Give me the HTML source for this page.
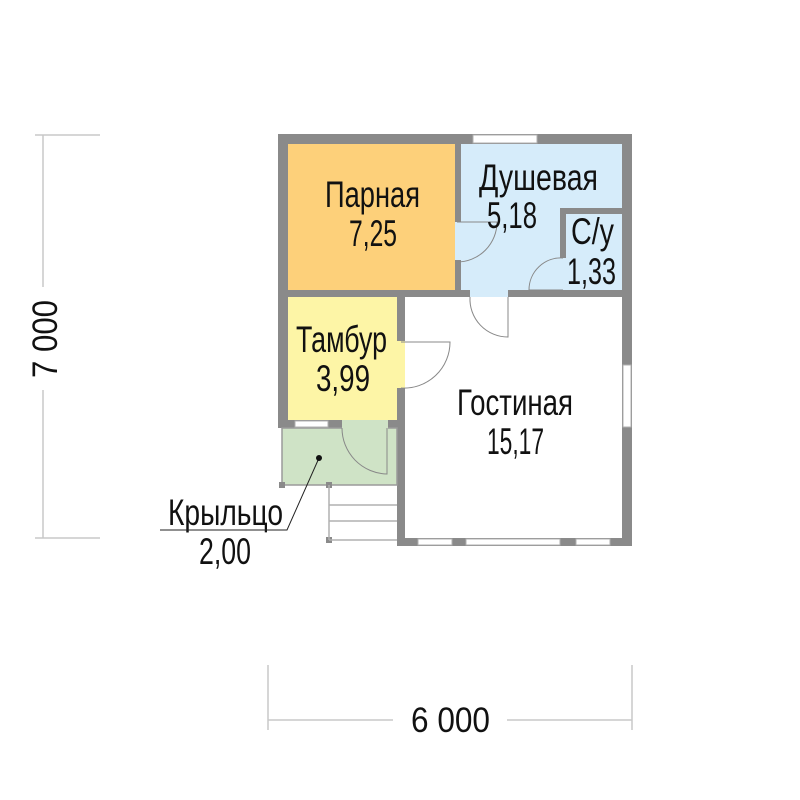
<!DOCTYPE html>
<html><head><meta charset="utf-8"><style>
html,body{margin:0;padding:0;background:#fff;}
svg{display:block;}
text{font-family:"Liberation Sans Narrow","Liberation Sans",sans-serif;fill:#111;}
</style></head><body>
<svg width="800" height="800" viewBox="0 0 800 800" xmlns="http://www.w3.org/2000/svg">
<g stroke="#c8c8c8" stroke-width="1.5" fill="none">
<line x1="43" y1="135" x2="43" y2="287"/>
<line x1="43" y1="390" x2="43" y2="538"/>
<line x1="35" y1="135" x2="100" y2="135"/>
<line x1="35" y1="538" x2="100" y2="538"/>
<line x1="268" y1="665" x2="268" y2="730"/>
<line x1="632" y1="665" x2="632" y2="730"/>
<line x1="268" y1="720" x2="393" y2="720"/>
<line x1="507" y1="720" x2="632" y2="720"/>
</g>
<text x="411" y="732" font-size="35" textLength="79" lengthAdjust="spacingAndGlyphs">6 000</text>
<text transform="translate(57,378) rotate(-90)" font-size="35" textLength="78" lengthAdjust="spacingAndGlyphs">7 000</text>

<rect x="278" y="134" width="354" height="163" fill="#8a8a8a"/>
<rect x="278" y="290" width="127" height="138" fill="#8a8a8a"/>
<rect x="397" y="290" width="235" height="256" fill="#8a8a8a"/>
<rect x="288" y="144" width="167" height="146" fill="#fdd07a"/>
<rect x="461" y="144" width="161" height="146" fill="#d6ecfa"/>
<rect x="560" y="208" width="62" height="82" fill="#8a8a8a"/>
<rect x="566" y="214" width="56" height="76" fill="#d6ecfa"/>
<rect x="288" y="297" width="109" height="123" fill="#fdf5a6"/>
<rect x="405" y="297" width="217" height="241" fill="#fff"/>
<rect x="282" y="428" width="115" height="57" fill="#cfe3c6" stroke="#9a9a9a" stroke-width="1.5"/>
<rect x="342" y="420" width="46" height="9" fill="#cfe3c6"/>
<rect x="279" y="482" width="6" height="6" fill="#8a8a8a"/>
<rect x="326" y="482" width="6" height="6" fill="#8a8a8a"/>
<rect x="326" y="537" width="6" height="6" fill="#8a8a8a"/>
<g stroke="#b0b0b0" stroke-width="1.5">
<line x1="329" y1="485" x2="329" y2="540"/>
<line x1="329" y1="505" x2="397" y2="505"/>
<line x1="329" y1="521" x2="397" y2="521"/>
<line x1="329" y1="540" x2="397" y2="540"/>
</g>
<g fill="#fff" stroke="#b0b0b0" stroke-width="1">
<rect x="473" y="135" width="64" height="8"/>
<rect x="623" y="365" width="8" height="62"/>
<rect x="295" y="421" width="33" height="6"/>
<rect x="418" y="539" width="34" height="6"/>
<rect x="466" y="539" width="94" height="6"/>
<rect x="576" y="539" width="34" height="6"/>
</g>
<rect x="455" y="222" width="6" height="38" fill="#d6ecfa"/>
<rect x="470" y="290" width="38" height="7" fill="#d6ecfa"/>
<rect x="397" y="341" width="8" height="47" fill="#fdf5a6"/>
<rect x="560" y="258" width="6" height="32" fill="#d6ecfa"/>
<g stroke="#888" stroke-width="1" fill="none">
<path d="M457 222 L497 222 A40 40 0 0 1 457 262"/>
<path d="M508 297 L508 337 A38 38 0 0 1 470 297"/>
<path d="M401 342 L450 342 A46 46 0 0 1 401 388"/>
<path d="M387 428 L387 474 A46 46 0 0 1 342 428"/>
<path d="M563 258 A32 32 0 0 0 529 290 L563 290"/>
</g>
<g font-size="37">
<text x="325" y="207" textLength="95" lengthAdjust="spacingAndGlyphs">Парная</text>
<text x="349" y="246" textLength="48" lengthAdjust="spacingAndGlyphs">7,25</text>
<text x="479" y="190" textLength="119" lengthAdjust="spacingAndGlyphs">Душевая</text>
<text x="487" y="228" textLength="50" lengthAdjust="spacingAndGlyphs">5,18</text>
<text x="571" y="244" textLength="43" lengthAdjust="spacingAndGlyphs">С/у</text>
<text x="567" y="284" textLength="49" lengthAdjust="spacingAndGlyphs">1,33</text>
<text x="296" y="352" textLength="91" lengthAdjust="spacingAndGlyphs">Тамбур</text>
<text x="316" y="391" textLength="54" lengthAdjust="spacingAndGlyphs">3,99</text>
<text x="457" y="415" textLength="116" lengthAdjust="spacingAndGlyphs">Гостиная</text>
<text x="487" y="454" textLength="57" lengthAdjust="spacingAndGlyphs">15,17</text>
<text x="168" y="525" textLength="115" lengthAdjust="spacingAndGlyphs">Крыльцо</text>
<text x="199" y="564" textLength="52" lengthAdjust="spacingAndGlyphs">2,00</text>
</g>
<polyline points="160,530 287,530 319,458" fill="none" stroke="#222" stroke-width="1"/>
<circle cx="319" cy="458" r="3" fill="#111"/>
</svg>
</body></html>
